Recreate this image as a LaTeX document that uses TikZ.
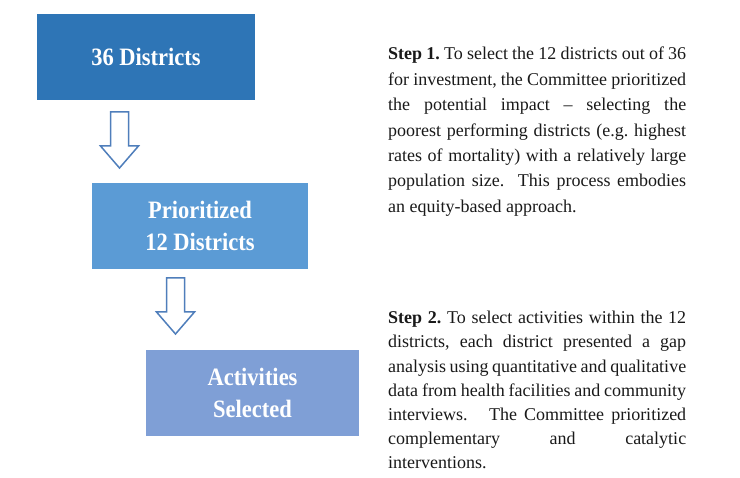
\documentclass[tikz,border=0pt]{standalone}
\usepackage{fontspec}
\usepackage{xcolor}
\setmainfont{Liberation Serif}
\newfontfamily\stagefont[FakeStretch=0.9]{Liberation Serif}
\definecolor{stageone}{HTML}{2E75B6}
\definecolor{stagetwo}{HTML}{5B9BD5}
\definecolor{stagethree}{HTML}{7F9FD6}
\definecolor{arrowline}{HTML}{4F7EBB}
\frenchspacing

\begin{document}
\begin{tikzpicture}[x=1pt,y=-1pt]
    \tikzstyle{stage}=[rectangle,minimum width=216pt,minimum height=86pt,inner sep=0pt,text=white,align=center,font=\stagefont\bfseries\fontsize{25}{32}\selectfont]
    \tikzstyle{hollow}=[draw=arrowline,fill=white,line width=1.5pt,line join=miter]
    \tikzstyle{note}=[anchor=north west,text width=298pt,align=justify,inner sep=0pt,text=black!90]

    \useasboundingbox (0,0) rectangle (740,478);

    % boxes
    \node[stage,fill=stageone,minimum width=218pt] (s1) at (146,57) {36 Districts};
    \node[stage,fill=stagetwo] (s2) at (200,226) {Prioritized\\12 Districts};
    \node[stage,fill=stagethree,minimum width=213pt] (s3) at (252.5,393) {Activities\\Selected};

    % hollow arrows between the boxes
    \foreach \i/\ax/\ay in {1/119.5/112, 2/175.5/278} {
        \coordinate (t\i) at (\ax,\ay);
        \draw[hollow] (t\i) ++(-9,0) -- ++(18,0) -- ++(0,34) -- ++(10,0)
            -- ++(-19,22) -- ++(-19,-22) -- ++(10,0) -- cycle;
    }

    % step texts
    \node[note,font=\fontsize{18}{25.4}\selectfont] (n1) at (388,47) {\textbf{Step 1.} To select the 12 districts out of 36\linebreak
        for investment, the Committee prioritized\linebreak
        the potential impact -- selecting the\linebreak
        poorest performing districts (e.g. highest\linebreak
        rates of mortality) with a relatively large\linebreak
        population size.~ This process embodies\linebreak
        an equity-based approach.};
    \node[note,font=\fontsize{18}{24.2}\selectfont] (n2) at (388,311) {\textbf{Step 2.} To select activities within the 12\linebreak
        districts, each district presented a gap\linebreak
        analysis using quantitative and qualitative\linebreak
        data from health facilities and community\linebreak
        interviews.~~ The Committee prioritized\linebreak
        complementary and catalytic\linebreak
        interventions.};
\end{tikzpicture}
\end{document}
